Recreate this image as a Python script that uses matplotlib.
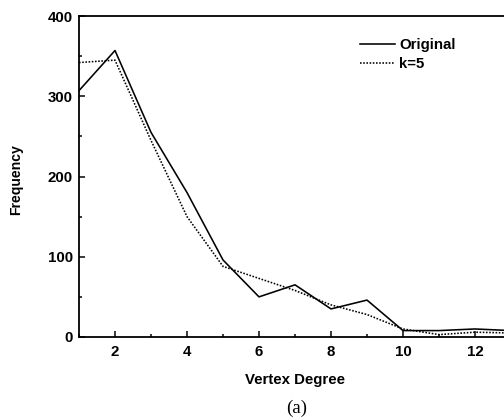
import matplotlib
matplotlib.use('Agg')
import matplotlib.pyplot as plt
from matplotlib.ticker import MultipleLocator

# data
degree = [1, 2, 3, 4, 5, 6, 7, 8, 9, 10, 11, 12, 13]
original = [307, 357, 255, 180, 96, 50, 65, 35, 46, 8, 8, 10, 8]
k5 = [342, 345, 245, 150, 88, 73, 58, 40, 28, 10, 3, 6, 5]

plt.rcParams['font.family'] = ['Liberation Sans', 'DejaVu Sans']
plt.rcParams['font.weight'] = 'bold'

fig = plt.figure(figsize=(7, 420 / 72), dpi=72)
ax = fig.add_axes([79 / 504, 83 / 420, 432 / 504, 321 / 420])

ax.plot(degree, original, color='black', lw=1.6, label='Original')
ax.plot(degree, k5, color='black', lw=1.6, ls=(0, (1, 1)), label='k=5')

ax.set_xlim(1, 13)
ax.set_ylim(0, 400)
ax.xaxis.set_major_locator(MultipleLocator(2))
ax.xaxis.set_minor_locator(MultipleLocator(1))
ax.yaxis.set_major_locator(MultipleLocator(100))
ax.yaxis.set_minor_locator(MultipleLocator(50))
ax.tick_params(which='both', direction='in', labelsize=15, width=1.5)
ax.tick_params(which='major', length=6)
ax.tick_params(which='minor', length=3)
ax.tick_params(axis='x', pad=8)
ax.tick_params(axis='y', pad=6)
for s in ax.spines.values():
    s.set_linewidth(1.8)

ax.set_xlabel('Vertex Degree', fontsize=15, fontweight='bold', labelpad=14)
fig.text(16 / 504, 1 - 180 / 420, 'Frequency', rotation=90, ha='center', va='center',
         fontsize=14, fontweight='bold')

ax.legend(loc='upper left', bbox_to_anchor=(360 / 504, 1 - 38 / 420),
          bbox_transform=fig.transFigure, frameon=False,
          fontsize=15, handlelength=2.3, handletextpad=0.3, labelspacing=0.35,
          borderaxespad=0, borderpad=0)

fig.text(297 / 504, 1 - 408 / 420, '(a)', ha='center', va='center', fontsize=19,
         family='Liberation Serif', fontweight='normal')

fig.savefig('out.png', dpi=72)
